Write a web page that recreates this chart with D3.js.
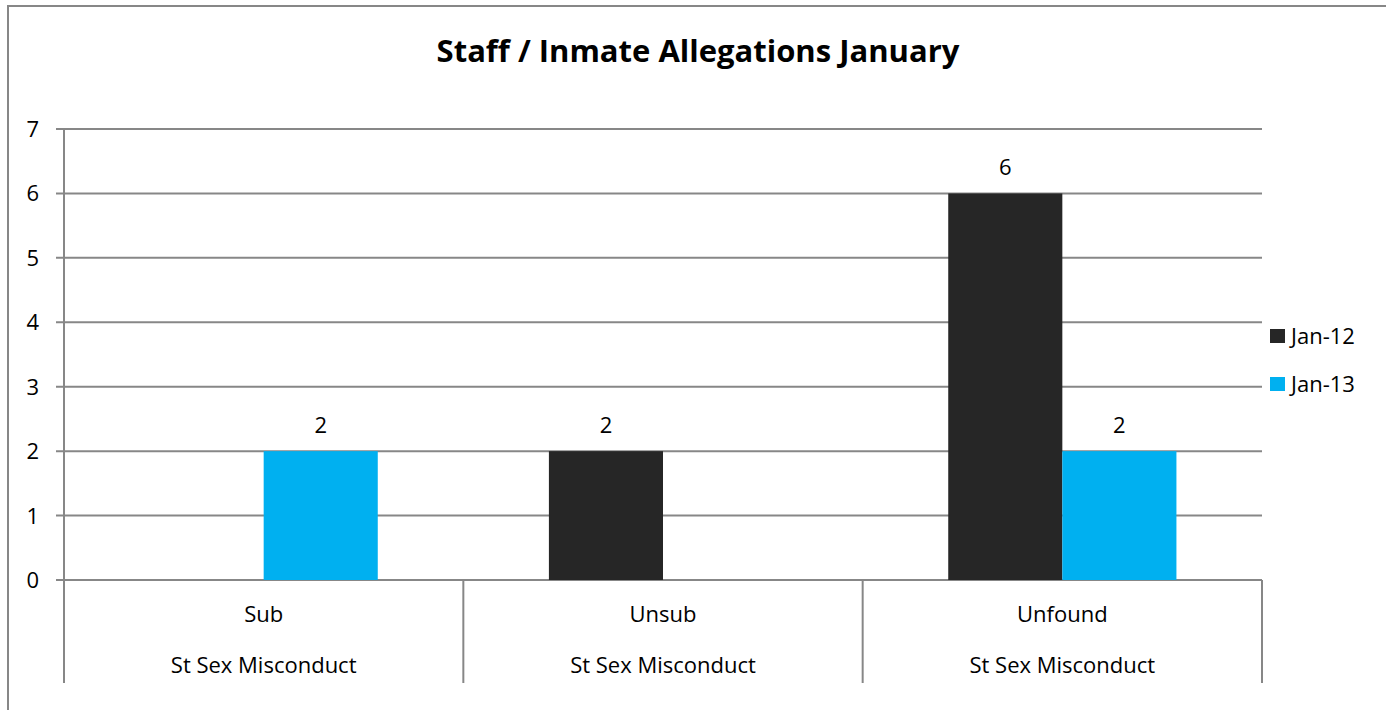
<!DOCTYPE html>
<html>
<head>
<meta charset="utf-8">
<script src="https://cdn.jsdelivr.net/npm/d3@7/dist/d3.min.js"></script>
<style>
  html, body { margin: 0; padding: 0; background: #fff; }
  svg text { font-family: "Open Sans", "Noto Sans", sans-serif; fill: #000; }
</style>
</head>
<body>
<svg id="chart" width="1386" height="710"></svg>
<script>
// data
const categories = ["Sub", "Unsub", "Unfound"];
const groupLabels = ["St Sex Misconduct", "St Sex Misconduct", "St Sex Misconduct"];
const seriesNames = ["Jan-12", "Jan-13"];
const jan12 = [null, 2, 6];
const jan13 = [2, null, 2];
const yTicks = [0, 1, 2, 3, 4, 5, 6, 7];
const colors = ["#262626", "#00b0f0"];
const title = "Staff / Inmate Allegations January";

const svg = d3.select("#chart");
const gridColor = "#878787";
const fs = 22;

// outer chart frame (runs off right / bottom edge)
svg.append("rect")
    .attr("x", 8).attr("y", 6).attr("width", 1400).attr("height", 720)
    .attr("fill", "none").attr("stroke", gridColor).attr("stroke-width", 2);

svg.append("text").text(title)
    .attr("x", 698).attr("y", 62)
    .attr("text-anchor", "middle")
    .attr("font-size", 31).attr("font-weight", "bold");

const plot = { left: 64, right: 1262, top: 129, bottom: 580 };

const x = d3.scaleBand().domain(categories)
    .range([plot.left, plot.right]).paddingInner(0).paddingOuter(0);
// Excel gap width 150%: 2 bars + 1.5 bar gap per category
const xs = d3.scaleBand().domain(seriesNames)
    .range([0, x.bandwidth()]).paddingInner(0).paddingOuter(0.75);
const y = d3.scaleLinear().domain([0, 7]).range([plot.bottom, plot.top]);

// gridlines + left ticks
svg.append("g").selectAll("line").data(yTicks).enter()
    .append("line")
    .attr("x1", plot.left - 8).attr("x2", plot.right)
    .attr("y1", d => y(d)).attr("y2", d => y(d))
    .attr("stroke", gridColor).attr("stroke-width", 2);

// y tick labels
svg.append("g").selectAll("text").data(yTicks).enter()
    .append("text").text(d => d)
    .attr("x", 39).attr("y", d => y(d) + 8)
    .attr("text-anchor", "end").attr("font-size", fs);

// y axis line
svg.append("line")
    .attr("x1", plot.left).attr("x2", plot.left)
    .attr("y1", plot.top).attr("y2", plot.bottom)
    .attr("stroke", gridColor).attr("stroke-width", 2);

// category dividers below axis
const dividers = categories.map(c => x(c)).concat([plot.right]);
svg.append("g").selectAll("line").data(dividers).enter()
    .append("line")
    .attr("x1", d => d).attr("x2", d => d)
    .attr("y1", plot.bottom).attr("y2", 683)
    .attr("stroke", gridColor).attr("stroke-width", 2);

// category labels
svg.append("g").selectAll("text").data(categories).enter()
    .append("text").text(d => d)
    .attr("x", d => x(d) + x.bandwidth() / 2).attr("y", 622)
    .attr("text-anchor", "middle").attr("font-size", fs);
svg.append("g").selectAll("text").data(groupLabels).enter()
    .append("text").text(d => d)
    .attr("x", (d, i) => x(categories[i]) + x.bandwidth() / 2).attr("y", 673)
    .attr("text-anchor", "middle").attr("font-size", fs);

// bars
const series = [jan12, jan13];
series.forEach((vals, si) => {
    const pts = vals.map((v, i) => ({ cat: categories[i], v: v })).filter(p => p.v != null);
    const g = svg.append("g");
    g.selectAll("rect").data(pts).enter()
        .append("rect")
        .attr("x", p => x(p.cat) + xs(seriesNames[si]))
        .attr("width", xs.bandwidth())
        .attr("y", p => y(p.v))
        .attr("height", p => y(0) - y(p.v))
        .attr("fill", colors[si]);
    g.selectAll("text").data(pts).enter()
        .append("text").text(p => p.v)
        .attr("x", p => x(p.cat) + xs(seriesNames[si]) + xs.bandwidth() / 2)
        .attr("y", p => y(p.v) - 18)
        .attr("text-anchor", "middle").attr("font-size", fs);
});

// legend
const leg = svg.append("g").attr("transform", "translate(1270,329)");
seriesNames.forEach((name, i) => {
    leg.append("rect").attr("x", 0).attr("y", i * 48)
        .attr("width", 15).attr("height", 14).attr("fill", colors[i]);
    leg.append("text").text(name)
        .attr("x", 21).attr("y", i * 48 + 15).attr("font-size", fs);
});
</script>
</body>
</html>
